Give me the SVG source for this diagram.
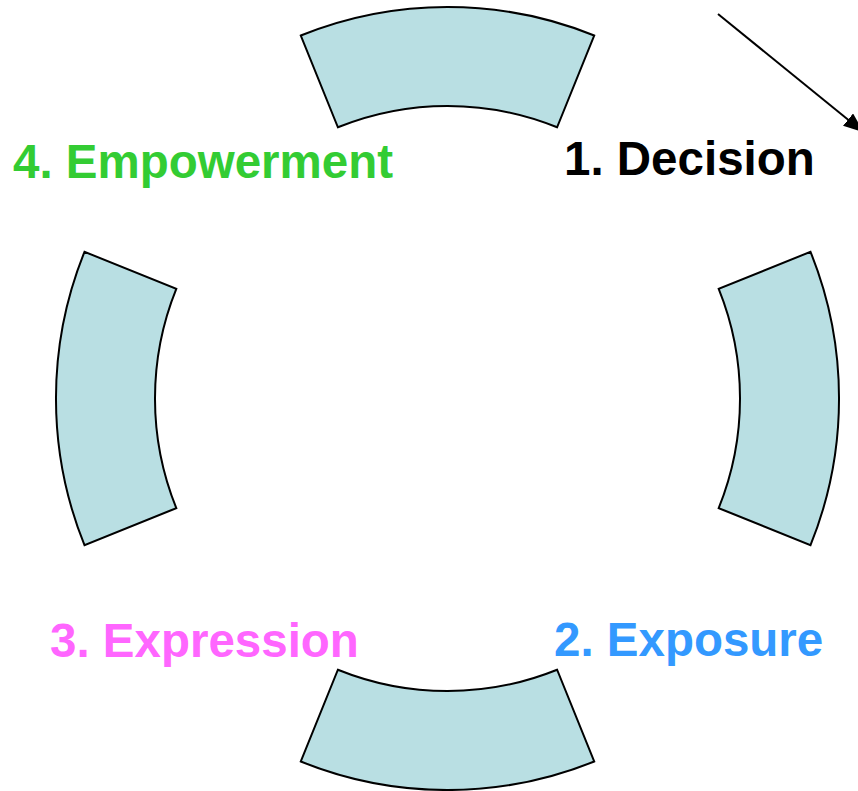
<svg xmlns="http://www.w3.org/2000/svg" width="858" height="791" viewBox="0 0 858 791">
<defs>
<style>
.seg{fill:#B9DFE3;stroke:#000;stroke-width:2;stroke-linejoin:miter}
.lbl{font-family:"Liberation Sans",Arial,sans-serif;font-weight:bold;font-size:47.5px}
</style>
<marker id="ah" markerWidth="10" markerHeight="8" refX="9" refY="4" orient="auto" markerUnits="strokeWidth">
<path d="M0,0 L10,4 L0,8 Z" fill="#000"/>
</marker>
</defs>
<rect width="858" height="791" fill="#fff"/>
<g id="seg-top"><path class="seg" d="M300.8 35.5 A391.5 391.5 0 0 1 594.2 35.5 L557.1 127.3 A292.5 292.5 0 0 0 337.9 127.3 Z"/></g>
<g id="seg-right"><path class="seg" d="M810.5 251.8 A391.5 391.5 0 0 1 810.5 545.2 L718.7 508.1 A292.5 292.5 0 0 0 718.7 288.9 Z"/></g>
<g id="seg-bottom"><path class="seg" d="M594.2 761.5 A391.5 391.5 0 0 1 300.8 761.5 L337.9 669.7 A292.5 292.5 0 0 0 557.1 669.7 Z"/></g>
<g id="seg-left"><path class="seg" d="M84.5 545.2 A391.5 391.5 0 0 1 84.5 251.8 L176.3 288.9 A292.5 292.5 0 0 0 176.3 508.1 Z"/></g>
<g id="label-decision"><text class="lbl" x="564" y="175" fill="#000">1. Decision</text></g>
<g id="label-exposure"><text class="lbl" x="554" y="656" fill="#3399FF">2. Exposure</text></g>
<g id="label-expression"><text class="lbl" x="50" y="657" fill="#FF66FF">3. Expression</text></g>
<g id="label-empowerment"><text class="lbl" x="13" y="178" fill="#33CC33">4. Empowerment</text></g>
<g id="connectors">
<line x1="718" y1="14" x2="862" y2="131" stroke="#000" stroke-width="2" marker-end="url(#ah)"/>
</g>
</svg>
